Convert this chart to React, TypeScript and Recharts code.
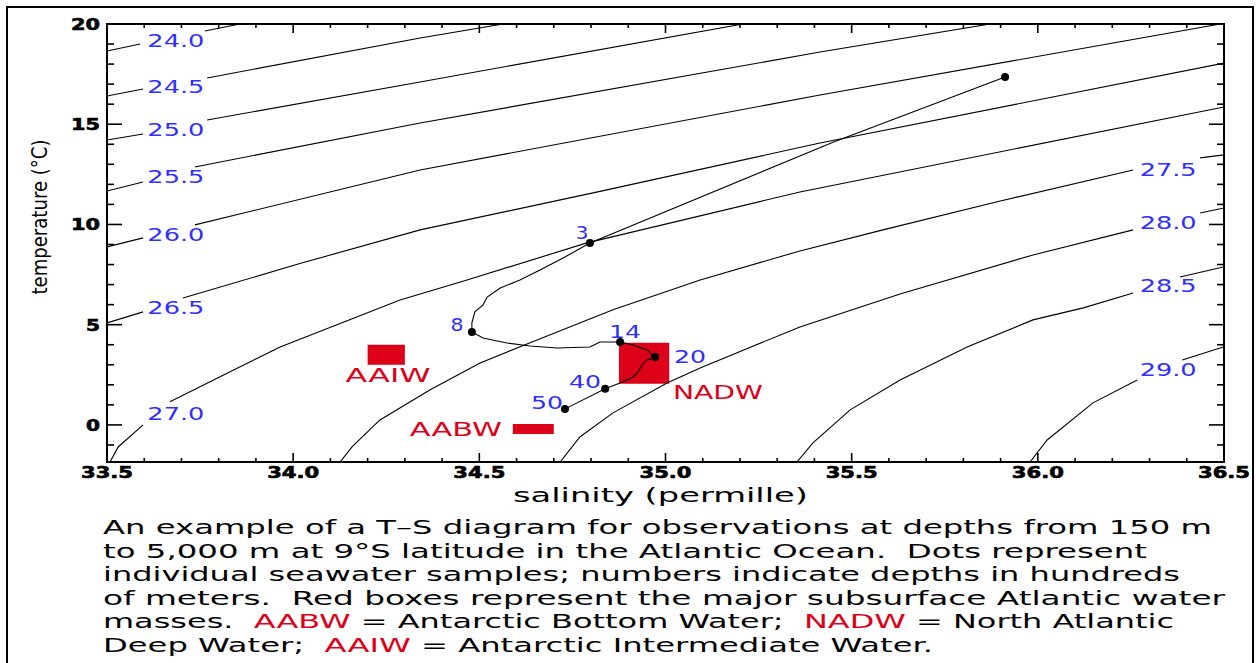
import { ComposedChart, Scatter, XAxis, YAxis, ReferenceArea, Label } from 'recharts'

const FONT = '"DejaVu Sans", Verdana, sans-serif'
const BLUE = '#2e2eff'
const RED = '#dc0018'
const PLOT_W = 1117
const PLOT_H = 438

type Pair = [number, number]

// axis ticks
const salinityTicks = [
  33.5, 33.6, 33.7, 33.8, 33.9, 34.0, 34.1, 34.2, 34.3, 34.4, 34.5, 34.6, 34.7, 34.8, 34.9, 35.0,
  35.1, 35.2, 35.3, 35.4, 35.5, 35.6, 35.7, 35.8, 35.9, 36.0, 36.1, 36.2, 36.3, 36.4, 36.5,
]
const temperatureTicks = [-1, 0, 1, 2, 3, 4, 5, 6, 7, 8, 9, 10, 11, 12, 13, 14, 15, 16, 17, 18, 19, 20]

// isopycnals (sigma-t); each one split where its label sits
const sigma24_0: Pair[][] = [
  [[33.5, 18.65], [33.589, 19.0]],
  [[33.763, 19.65], [33.857, 20.0]],
]
const sigma24_5: Pair[][] = [
  [[33.5, 16.41], [33.597, 16.76]],
  [[33.769, 17.31], [34.341, 19.3], [34.564, 20.0]],
]
const sigma25_0: Pair[][] = [
  [[33.5, 14.21], [33.597, 14.51]],
  [[33.769, 15.21], [34.341, 17.11], [35.208, 20.0]],
]
const sigma25_5: Pair[][] = [
  [[33.5, 11.67], [33.597, 12.12]],
  [[33.736, 12.87], [34.341, 15.06], [35.415, 18.6], [35.872, 20.0]],
]
const sigma26_0: Pair[][] = [
  [[33.5, 8.88], [33.597, 9.33]],
  [[33.736, 9.98], [34.341, 12.72], [35.415, 16.46], [36.49, 20.0]],
]
const sigma26_5: Pair[][] = [
  [[33.5, 5.09], [33.597, 5.64]],
  [[33.704, 6.33], [34.018, 8.05], [34.341, 9.73], [34.824, 11.65], [35.415, 14.06], [36.5, 18.05]],
]
const sigma27_0: Pair[][] = [
  [[33.508, -1.85], [33.53, -1.1], [33.597, 0.0]],
  [[33.669, 1.15], [33.965, 3.89], [34.287, 6.23], [34.467, 7.23], [34.789, 9.08], [35.361, 11.62], [36.5, 15.86]],
]
const sigma27_5: Pair[][] = [
  [[34.126, -1.85], [34.158, -1.1], [34.233, 0.25], [34.368, 1.75], [34.502, 3.09], [34.628, 4.04],
    [34.859, 5.74], [35.093, 7.23], [35.361, 8.68], [35.584, 9.73], [35.899, 11.17], [36.256, 12.72]],
  [[36.436, 13.32], [36.5, 13.47]],
]
const sigma28_0: Pair[][] = [
  [[34.717, -1.85], [34.77, -0.6], [34.859, 0.6], [35.004, 2.09], [35.093, 2.84], [35.361, 4.89],
    [35.63, 6.53], [35.987, 8.48], [36.256, 9.73]],
  [[36.436, 10.57], [36.5, 10.82]],
]
const sigma28_5: Pair[][] = [
  [[35.353, -1.85], [35.396, -0.9], [35.496, 0.75], [35.63, 2.24], [35.81, 3.89], [35.987, 5.24],
    [36.122, 5.84], [36.256, 6.58]],
  [[36.382, 7.38], [36.498, 7.88]],
]
const sigma29_0: Pair[][] = [
  [[35.979, -1.85], [36.025, -0.75], [36.148, 1.1], [36.267, 2.24]],
  [[36.388, 3.24], [36.498, 3.89]],
]
const isopycnals = [sigma24_0, sigma24_5, sigma25_0, sigma25_5, sigma26_0, sigma26_5, sigma27_0,
  sigma27_5, sigma28_0, sigma28_5, sigma29_0]

const isopycnalLabels = [
  { s: 33.685, t: 19.15, text: '24.0' },
  { s: 33.685, t: 16.86, text: '24.5' },
  { s: 33.685, t: 14.71, text: '25.0' },
  { s: 33.685, t: 12.37, text: '25.5' },
  { s: 33.685, t: 9.48, text: '26.0' },
  { s: 33.685, t: 5.84, text: '26.5' },
  { s: 33.685, t: 0.55, text: '27.0' },
  { s: 36.35, t: 12.72, text: '27.5' },
  { s: 36.35, t: 10.07, text: '28.0' },
  { s: 36.35, t: 6.93, text: '28.5' },
  { s: 36.35, t: 2.74, text: '29.0' },
]

// T-S profile at 9°S
const profile: Pair[] = [
  [35.912, 17.36], [35.45, 14.1], [34.797, 9.08], [34.73, 8.38], [34.663, 7.73], [34.609, 7.23],
  [34.556, 6.83], [34.521, 6.38], [34.51, 5.99], [34.488, 5.64], [34.48, 5.09], [34.48, 4.64],
  [34.51, 4.34], [34.574, 4.09], [34.636, 3.94], [34.709, 3.84], [34.797, 3.89], [34.824, 4.14],
  [34.878, 4.14], [34.913, 3.99], [34.95, 3.74], [34.972, 3.39], [34.95, 3.24], [34.937, 2.99],
  [34.926, 2.64], [34.913, 2.39], [34.878, 2.09], [34.838, 1.8], [34.73, 0.8],
]
const samples: Pair[] = [
  [35.912, 17.36], [34.797, 9.08], [34.48, 4.64], [34.878, 4.14], [34.972, 3.39], [34.838, 1.8], [34.73, 0.8],
]
const depthLabels = [
  { s: 34.776, t: 9.58, text: '3' },
  { s: 34.44, t: 4.99, text: '8' },
  { s: 34.891, t: 4.64, text: '14' },
  { s: 35.066, t: 3.39, text: '20' },
  { s: 34.784, t: 2.14, text: '40' },
  { s: 34.682, t: 1.1, text: '50' },
]

// water masses
const waterMasses = [
  { name: 'AAIW', s1: 34.2, s2: 34.3, t1: 3.0, t2: 4.0, ls: 34.255, lt: 2.49 },
  { name: 'NADW', s1: 34.875, s2: 35.01, t1: 2.05, t2: 4.1, ls: 35.141, lt: 1.65 },
  { name: 'AABW', s1: 34.59, s2: 34.7, t1: -0.45, t2: 0.05, ls: 34.437, lt: -0.2 },
]

const captionLines = [
  { w: 1109, parts: [['An example of a T\u2013S diagram for observations at depths from 150 m', false]] },
  { w: 1044, parts: [['to 5,000 m at 9\u00b0S latitude in the Atlantic Ocean.  Dots represent', false]] },
  { w: 1077, parts: [['individual seawater samples; numbers indicate depths in hundreds', false]] },
  { w: 1122, parts: [['of meters.  Red boxes represent the major subsurface Atlantic water', false]] },
  { w: 1071, parts: [['masses.  ', false], ['AABW', true], [' = Antarctic Bottom Water;  ', false], ['NADW', true], [' = North Atlantic', false]] },
  { w: 830, parts: [['Deep Water;  ', false], ['AAIW', true], [' = Antarctic Intermediate Water.', false]] },
] as { w: number; parts: [string, boolean][] }[]

const toPts = (a: Pair[]) => a.map(([s, t]) => ({ s, t }))
const noShape = () => <g />

function SalinityTick(props: any) {
  const { x, y, payload } = props
  const v = payload.value
  const major = Math.abs(v * 2 - Math.round(v * 2)) < 1e-6
  const len = major ? 9 : 4
  return (
    <g>
      <line x1={x} x2={x} y1={y} y2={y - len} stroke="#000" strokeWidth={1.6} />
      <line x1={x} x2={x} y1={y - PLOT_H} y2={y - PLOT_H + len} stroke="#000" strokeWidth={1.6} />
      {major && (
        <text x={x} y={y + 16} textAnchor="middle" fontFamily={FONT} fontWeight="bold" fontSize={15}
          stroke="#000" strokeWidth={0.6} textLength={52} lengthAdjust="spacingAndGlyphs">
          {v.toFixed(1)}
        </text>
      )}
    </g>
  )
}

function TemperatureTick(props: any) {
  const { x, y, payload } = props
  const v = payload.value
  const major = v % 5 === 0
  const len = major ? 15 : 7
  const label = String(v)
  return (
    <g>
      <line x1={x} x2={x + len} y1={y} y2={y} stroke="#000" strokeWidth={1.6} />
      <line x1={x + PLOT_W - len} x2={x + PLOT_W} y1={y} y2={y} stroke="#000" strokeWidth={1.6} />
      {major && (
        <text x={x - 7} y={y + 6} textAnchor="end" fontFamily={FONT} fontWeight="bold" fontSize={15}
          stroke="#000" strokeWidth={0.6} textLength={label.length === 1 ? 14 : 29} lengthAdjust="spacingAndGlyphs">
          {label}
        </text>
      )}
    </g>
  )
}

function XTitle(props: any) {
  const vb = props.viewBox ?? { x: 107, y: 462, width: PLOT_W, height: 58 }
  return (
    <text x={vb.x + vb.width / 2 - 5} y={vb.y + 40} textAnchor="middle" fontFamily={FONT} fontSize={19}
      textLength={295} lengthAdjust="spacingAndGlyphs">
      salinity (permille)
    </text>
  )
}

function YTitle(props: any) {
  const vb = props.viewBox ?? { x: 0, y: 24, width: 107, height: PLOT_H }
  const cx = vb.x + 40
  const cy = vb.y + vb.height / 2 - 26
  return (
    <text x={cx} y={cy} transform={`rotate(-90 ${cx} ${cy})`} textAnchor="middle" dominantBaseline="central"
      fontFamily={FONT} fontSize={21} textLength={155} lengthAdjust="spacingAndGlyphs">
      temperature (°C)
    </text>
  )
}

function textShape(color: string, size: number, widthFor: (t: string) => number) {
  return (props: any) => {
    const { cx, cy, payload } = props
    return (
      <text x={cx} y={cy + size * 0.36} textAnchor="middle" fill={color} fontFamily={FONT} fontSize={size}
        textLength={widthFor(payload.text)} lengthAdjust="spacingAndGlyphs">
        {payload.text}
      </text>
    )
  }
}

const dotShape = (props: any) => <circle cx={props.cx} cy={props.cy} r={4} fill="#000" />

export default function App() {
  const massLabels = waterMasses.map(m => ({ s: m.ls, t: m.lt, text: m.name }))
  return (
    <div style={{ position: 'absolute', left: 0, top: 0, width: 1256, height: 663, overflow: 'hidden', background: '#fff' }}>
      <div style={{ position: 'absolute', left: 6, top: 6, width: 1248, height: 680, border: '2px solid #000', boxSizing: 'border-box' }} />
      <div style={{ position: 'absolute', left: 0, top: 0 }}>
        <ComposedChart width={1256} height={520} margin={{ top: 24, right: 32, bottom: 0, left: 0 }}>
          <XAxis dataKey="s" type="number" domain={[33.5, 36.5]} ticks={salinityTicks} interval={0}
            allowDataOverflow tick={<SalinityTick />} tickLine={false} axisLine={false} tickSize={0} tickMargin={0} height={58}>
            <Label content={<XTitle />} />
          </XAxis>
          <YAxis dataKey="t" type="number" domain={[-1.85, 20]} ticks={temperatureTicks} interval={0}
            allowDataOverflow tick={<TemperatureTick />} tickLine={false} axisLine={false} tickSize={0} tickMargin={0} width={107}>
            <Label content={<YTitle />} />
          </YAxis>
          {waterMasses.map(m => (
            <ReferenceArea key={m.name} x1={m.s1} x2={m.s2} y1={m.t1} y2={m.t2} fill={RED} fillOpacity={1} stroke="none" />
          ))}
          {isopycnals.flatMap((c, i) => c.map((seg, j) => (
            <Scatter key={`c${i}-${j}`} data={toPts(seg)} line={{ stroke: '#000', strokeWidth: 1.1 }} shape={noShape}
              isAnimationActive={false} />
          )))}
          <Scatter data={toPts(profile)} line={{ stroke: '#000', strokeWidth: 1.1 }} shape={noShape} isAnimationActive={false} />
          <Scatter data={toPts(samples)} shape={dotShape} isAnimationActive={false} />
          <Scatter data={isopycnalLabels} shape={textShape(BLUE, 17, () => 57)} isAnimationActive={false} />
          <Scatter data={depthLabels} shape={textShape(BLUE, 17, t => (t.length === 1 ? 13 : 32))} isAnimationActive={false} />
          <Scatter data={massLabels} shape={textShape(RED, 19, t => (t === 'AAIW' ? 85 : t === 'NADW' ? 90 : 92))} isAnimationActive={false} />
          <ReferenceArea x1={33.5} x2={36.5} y1={-1.85} y2={20} fill="none" stroke="#000" strokeWidth={2} />
        </ComposedChart>
      </div>
      <svg style={{ position: 'absolute', left: 0, top: 0 }} width={1256} height={663}>
        {captionLines.map((line, i) => (
          <text key={i} x={103} y={534 + i * 23.5} fontFamily={FONT} fontSize={19} textLength={line.w}
            lengthAdjust="spacingAndGlyphs" style={{ whiteSpace: 'pre' }}>
            {line.parts.map(([txt, red], j) => (
              <tspan key={j} fill={red ? RED : '#000'}>{txt}</tspan>
            ))}
          </text>
        ))}
      </svg>
    </div>
  )
}
